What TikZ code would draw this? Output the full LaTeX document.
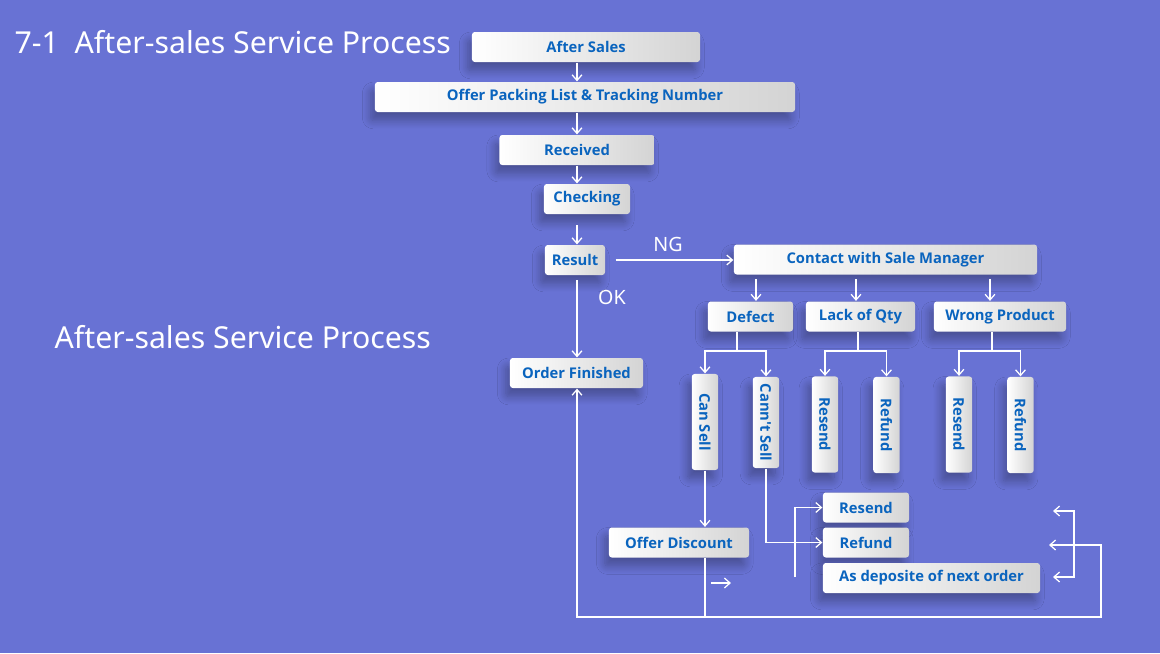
\documentclass[tikz,border=0pt]{standalone}
\usepackage{fontspec}
\setmainfont{Noto Sans}
\newfontfamily\boxfont{Open Sans}
\usetikzlibrary{arrows.meta,shadows.blur}
\definecolor{bgblue}{RGB}{104,114,212}
\definecolor{txtblue}{RGB}{10,100,190}

\begin{document}
\begin{tikzpicture}[x=0.025cm, y=-0.025cm, white, line width=0.9pt,
    box/.style={rounded corners=2pt, left color=white, right color=black!17,
      text=txtblue, font=\boxfont\bfseries\fontsize{10.5}{12}\selectfont,
      minimum height=0.75cm, inner sep=0pt,
      blur shadow={shadow xshift=-3pt, shadow yshift=-6pt, shadow blur radius=6pt,
        shadow blur steps=12, shadow opacity=30}},
    vbox/.style={box, rotate=-90, minimum height=0.66cm, minimum width=2.4cm},
    arr/.style={-{Straight Barb[length=4pt,width=7pt]}},
    twoarr/.style={{Straight Barb[length=4pt,width=7pt]}-{Straight Barb[length=4pt,width=7pt]}},
    label/.style={inner sep=0pt, font=\fontsize{14}{16}\selectfont}]
  \useasboundingbox (0,0) rectangle (1160,653);
  \fill[bgblue] (0,0) rectangle (1160,653);

  \coordinate (axis) at (577,0);
  \coordinate (dsplit) at (737,351);
  \coordinate (lsplit) at (858,351);
  \coordinate (wsplit) at (992,351);
  \coordinate (xdefect) at (756,0);
  \coordinate (xlack) at (856,0);
  \coordinate (xwrong) at (990,0);
  \coordinate (rsfoot) at (795,577);
  \coordinate (freea) at (711,583);
  \coordinate (freeb) at (731,583);
  \coordinate (loopl) at (576,617);
  \coordinate (loopr) at (1101,617);
  \coordinate (backtip) at (1049,545);
  \coordinate (brtop) at (1053,511);
  \coordinate (brbot) at (1053,577);
  \coordinate (brx) at (1074,0);

  % headings
  \node[anchor=west, inner sep=0pt, font=\fontsize{21.5}{24}\selectfont] (title) at (14,42) {7-1~ After-sales Service Process};
  \node[anchor=west, inner sep=0pt, font=\fontsize{21.5}{24}\selectfont] (subtitle) at (54,337) {After-sales Service Process};
  \node[label] (ng) at (668,244) {NG};
  \node[label] (ok) at (612,297) {OK};

  % main column
  \node[box, minimum width=5.7cm] (aftersales) at (586,47) {After Sales};
  \node[box, minimum width=10.5cm] (packlist) at (585,97) {Offer Packing List \& Tracking Number};
  \node[box, minimum width=3.875cm] (received) at (577,150) {Received};
  \node[box, minimum width=2.15cm] (checking) at (587,199) {Checking};
  \node[box, minimum width=1.5cm] (result) at (575,260) {Result};
  \node[box, minimum width=3.325cm] (finished) at (576.5,373) {Order Finished};

  % NG branch
  \node[box, minimum width=7.575cm] (contact) at (885.5,259.5) {Contact with Sale Manager};
  \node[box, minimum width=2.125cm] (defect) at (750.5,316.5) {Defect};
  \node[box, minimum width=2.725cm] (lackqty) at (860.5,316.5) {Lack of Qty};
  \node[box, minimum width=3.3cm] (wrongprod) at (1000,316.5) {Wrong Product};

  \node[vbox] (cansell) at (705,422) {Can Sell};
  \node[vbox, minimum width=2.275cm] (cantsell) at (766,422.5) {Cann't Sell};
  \node[vbox] (lresend) at (825,424.5) {Resend};
  \node[vbox] (lrefund) at (886.5,425) {Refund};
  \node[vbox] (wresend) at (959,424.5) {Resend};
  \node[vbox] (wrefund) at (1020.5,425) {Refund};

  \node[box, minimum width=3.5cm] (discount) at (679,542.5) {Offer Discount};
  \node[box, minimum width=2.15cm] (resend) at (866,507.5) {Resend};
  \node[box, minimum width=2.15cm] (refund) at (866,542.5) {Refund};
  \node[box, minimum width=5.425cm] (deposit) at (931.5,578) {As deposite of next order};

  % connectors
  \draw[arr] (aftersales.south -| axis) -- (packlist.north -| axis);
  \draw[arr] (packlist.south -| axis) -- (received.north -| axis);
  \draw[arr] (received.south -| axis) -- (checking.north -| axis);
  \draw[arr, shorten <=2.7mm] (checking.south -| axis) -- (result.north -| axis);
  \draw[arr, shorten <=1.2mm] (result.south -| axis) -- (finished.north -| axis);
  \draw[arr, shorten <=2.5mm] (result.east) -- (result.east -| contact.west);

  \draw[arr, shorten <=1mm] (contact.south -| xdefect) -- (defect.north -| xdefect);
  \draw[arr, shorten <=1mm] (contact.south -| xlack) -- (lackqty.north -| xlack);
  \draw[arr, shorten <=1mm] (contact.south -| xwrong) -- (wrongprod.north -| xwrong);

  \draw[arr] (defect.south -| dsplit) -- (dsplit) -| (cansell.west);
  \draw[arr] (dsplit) -| (cantsell.west);
  \draw[arr] (lackqty.south -| lsplit) -- (lsplit) -| (lresend.west);
  \draw[arr] (lsplit) -| (lrefund.west);
  \draw[arr] (wrongprod.south -| wsplit) -- (wsplit) -| (wresend.west);
  \draw[arr] (wsplit) -| (wrefund.west);

  \draw[arr] (cansell.east) -- (cansell.east |- discount.north);
  \draw[arr] (cantsell.east) |- (refund.west);
  \draw[arr] (rsfoot) |- (resend.west);
  \draw[arr] (freea) -- (freeb);
  \draw (discount.south -| cansell.east) -- (cansell.east |- loopl);
  \draw[twoarr] (finished.south -| axis) |- (loopr) |- (backtip);
  \draw[twoarr] (brtop) -- (brtop -| brx) -- (brbot -| brx) -- (brbot);
\end{tikzpicture}
\end{document}
